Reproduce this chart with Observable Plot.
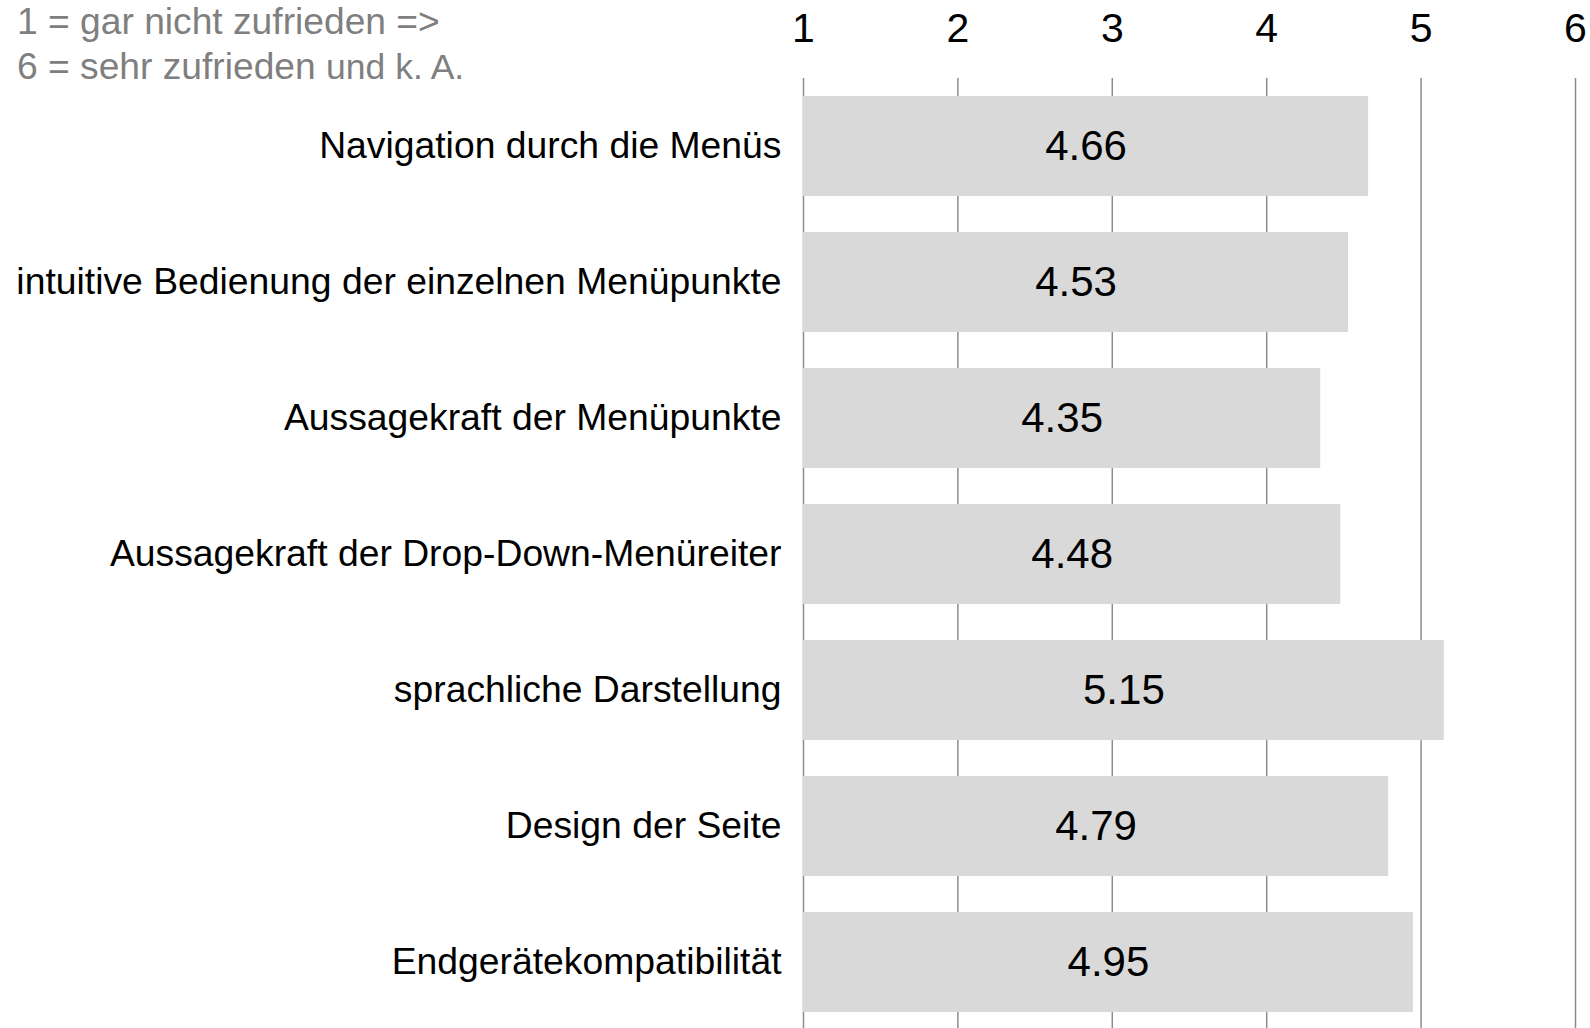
<!DOCTYPE html>
<html>
<head>
<meta charset="utf-8">
<script src="https://cdn.jsdelivr.net/npm/d3@7"></script>
<script src="https://cdn.jsdelivr.net/npm/@observablehq/plot@0.6"></script>
<style>
  html, body { margin: 0; padding: 0; background: #ffffff; }
  #wrap { position: relative; width: 1590px; height: 1028px; }
  #subtitle {
    position: absolute; left: 17px; top: -1px;
    font-family: "Liberation Sans", Arial, sans-serif;
    font-size: 37.2px; line-height: 44.6px; color: #7f7f7f;
    white-space: nowrap;
  }
  #subtitle .small { font-size: 35.5px; }
  #chart svg { display: block; }
</style>
</head>
<body>
<div id="wrap">
  <div id="chart"></div>
  <div id="subtitle">1 = gar nicht zufrieden =&gt;<br>6 = sehr zufrieden <span class="small">und k. A.</span></div>
</div>
<script>
const categories = [
  "Navigation durch die Menüs",
  "intuitive Bedienung der einzelnen Menüpunkte",
  "Aussagekraft der Menüpunkte",
  "Aussagekraft der Drop-Down-Menüreiter",
  "sprachliche Darstellung",
  "Design der Seite",
  "Endgerätekompatibilität"
];
const values = [4.66, 4.53, 4.35, 4.48, 5.15, 4.79, 4.95];
const scaleTicks = [1, 2, 3, 4, 5, 6];
const scaleStart = 1;

const data = categories.map((c, i) => ({category: c, value: values[i]}));

const chart = Plot.plot({
  width: 1590,
  height: 1028,
  marginLeft: 803,
  marginRight: 15,
  marginTop: 78,
  marginBottom: 0,
  style: {fontFamily: "'Liberation Sans', Arial, sans-serif", background: "#ffffff", color: "#000000", overflow: "visible"},
  x: {domain: [1, 6], label: null},
  y: {domain: categories, range: [78, 1030.5], paddingInner: 0.267, paddingOuter: 0.1335, align: 0.5, label: null},
  marks: [
    Plot.ruleX(scaleTicks, {stroke: "#8c8c8c", strokeWidth: 1.5}),
    Plot.barX(data, {x1: scaleStart, x2: "value", y: "category", fill: "#d9d9d9"}),
    Plot.text(data, {
      x: d => (scaleStart + d.value) / 2,
      y: "category",
      text: d => d.value.toFixed(2),
      fontSize: 42,
      fill: "#000000"
    }),
    Plot.axisX(scaleTicks, {anchor: "top", tickSize: 0, tickPadding: 37, fontSize: 41, fill: "#000000", label: null, tickFormat: d => String(d)}),
    Plot.axisY({tickSize: 0, tickPadding: 22, fontSize: 37.3, fill: "#000000", label: null})
  ]
});
document.getElementById("chart").appendChild(chart);
</script>
</body>
</html>
